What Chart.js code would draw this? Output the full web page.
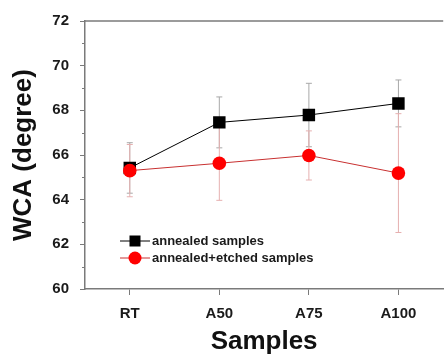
<!DOCTYPE html>
<html>
<head>
<meta charset="utf-8">
<script src="https://cdn.jsdelivr.net/npm/chart.js@4.4.1/dist/chart.umd.min.js"></script>
<style>
  html, body { margin: 0; padding: 0; background: #fff; overflow: hidden; }
  canvas { display: block; }
</style>
</head>
<body>
<canvas id="wcaChart" width="452" height="354"></canvas>
<script>
// dữ liệu
const categories = ['RT', 'A50', 'A75', 'A100'];
const annealed = [65.42, 67.46, 67.79, 68.31];
const annealedErr = [1.13, 1.14, 1.42, 1.05];
const etched = [65.30, 65.63, 65.98, 65.19];
const etchedErr = [1.17, 1.66, 1.10, 2.66];
const yTicks = [60, 62, 64, 66, 68, 70, 72];

const FONT = '"Liberation Sans", Arial, sans-serif';
const AXIS = '#7a7a7a';

// thanh sai số (vẽ dưới các điểm)
const errorBars = {
    id: 'errorBars',
    beforeDatasetsDraw(chart) {
        const { ctx, scales: { x, y } } = chart;
        chart.data.datasets.forEach((ds) => {
            ctx.save();
            ctx.strokeStyle = ds.errColor;
            ctx.lineWidth = 1;
            ds.data.forEach((v, i) => {
                const px = x.getPixelForValue(i);
                const top = y.getPixelForValue(v + ds.err[i]);
                const bot = y.getPixelForValue(v - ds.err[i]);
                ctx.beginPath();
                ctx.moveTo(px, top); ctx.lineTo(px, bot);
                ctx.moveTo(px - 3, top); ctx.lineTo(px + 3, top);
                ctx.moveTo(px - 3, bot); ctx.lineTo(px + 3, bot);
                ctx.stroke();
            });
            ctx.restore();
        });
    }
};

// khung trên, vạch phụ và chú thích
const frameAndLegend = {
    id: 'frameAndLegend',
    afterDraw(chart) {
        const { ctx, chartArea, scales: { y } } = chart;
        ctx.save();
        ctx.strokeStyle = AXIS;
        ctx.lineWidth = 1.5;
        ctx.beginPath();
        ctx.moveTo(chartArea.left, chartArea.top);
        ctx.lineTo(chartArea.right, chartArea.top);
        ctx.stroke();
        ctx.lineWidth = 1;
        for (let v = 61; v < 72; v += 2) {
            const py = Math.round(y.getPixelForValue(v)) + 0.5;
            ctx.beginPath();
            ctx.moveTo(chartArea.left - 3, py);
            ctx.lineTo(chartArea.left, py);
            ctx.stroke();
        }

        // chú thích
        const rows = [chart.data.datasets[0], chart.data.datasets[1]];
        rows.forEach((ds, i) => {
            const ly = 241 + i * 17;
            ctx.strokeStyle = ds.borderColor;
            ctx.lineWidth = 1;
            ctx.beginPath();
            ctx.moveTo(120, ly); ctx.lineTo(150, ly);
            ctx.stroke();
            ctx.fillStyle = ds.pointBackgroundColor;
            if (ds.pointStyle === 'rect') {
                ctx.fillRect(129.5, ly - 5.5, 11, 11);
            } else {
                ctx.beginPath();
                ctx.arc(135, ly, 6.5, 0, Math.PI * 2);
                ctx.fill();
            }
            ctx.fillStyle = '#1a1a1a';
            ctx.font = 'bold 13px ' + FONT;
            ctx.textBaseline = 'middle';
            ctx.textAlign = 'left';
            ctx.fillText(ds.label, 152, ly + 0.5);
        });
        ctx.restore();
    }
};

const ctx = document.getElementById('wcaChart').getContext('2d');
const wcaChart = new Chart(ctx, {
    type: 'line',
    data: {
        labels: categories,
        datasets: [{
            label: 'annealed samples',
            data: annealed,
            err: annealedErr,
            errColor: '#a8a8a8',
            borderColor: '#000000',
            borderWidth: 1,
            pointStyle: 'rect',
            pointRadius: 8.8,
            pointBackgroundColor: '#000000',
            pointBorderColor: '#000000',
            pointBorderWidth: 0,
            order: 2
        }, {
            label: 'annealed+etched samples',
            data: etched,
            err: etchedErr,
            errColor: '#e6b0b0',
            borderColor: '#c83030',
            borderWidth: 1,
            pointStyle: 'circle',
            pointRadius: 6.8,
            pointBackgroundColor: '#ff0000',
            pointBorderColor: '#ff0000',
            pointBorderWidth: 0,
            order: 1
        }]
    },
    options: {
        responsive: false,
        animation: false,
        layout: { padding: { top: 21, right: 4, left: 0, bottom: 0 } },
        plugins: {
            legend: { display: false },
            tooltip: { enabled: false }
        },
        scales: {
            x: {
                offset: true,
                grid: {
                    offset: false,
                    drawOnChartArea: false,
                    drawTicks: true,
                    tickLength: 6,
                    color: AXIS,
                    lineWidth: 1
                },
                border: { display: true, color: AXIS, width: 1.5 },
                ticks: {
                    color: '#1a1a1a',
                    padding: 10,
                    maxRotation: 0,
                    font: { family: FONT, size: 15, weight: 'bold' }
                },
                title: {
                    display: true,
                    text: 'Samples',
                    color: '#111',
                    padding: { top: 0, bottom: -3 },
                    font: { family: FONT, size: 26, weight: 'bold' }
                },
                afterFit(scale) { scale.height = 65; }
            },
            y: {
                min: 60,
                max: 72,
                afterBuildTicks(scale) { scale.ticks = yTicks.map(v => ({ value: v })); },
                grid: {
                    drawOnChartArea: false,
                    drawTicks: true,
                    tickLength: 5,
                    color: AXIS,
                    lineWidth: 1
                },
                border: { display: true, color: AXIS, width: 1.5 },
                ticks: {
                    color: '#1a1a1a',
                    padding: 11,
                    font: { family: FONT, size: 15, weight: 'bold' }
                },
                title: {
                    display: true,
                    text: 'WCA (degree)',
                    color: '#111',
                    padding: { top: 8, bottom: 0 },
                    font: { family: FONT, size: 26, weight: 'bold' }
                },
                afterFit(scale) { scale.width = 85; }
            }
        }
    },
    plugins: [errorBars, frameAndLegend]
});
</script>
</body>
</html>
